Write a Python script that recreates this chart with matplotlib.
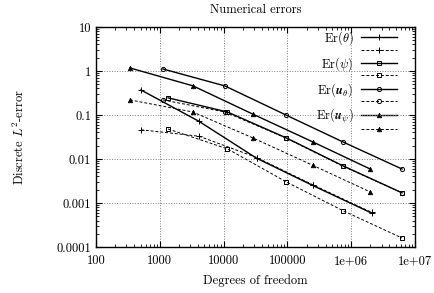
import matplotlib
matplotlib.use("Agg")
import matplotlib.pyplot as plt
from matplotlib.ticker import LogLocator, FixedLocator, FixedFormatter, NullFormatter

plt.rcParams["font.family"] = "cmr10"
plt.rcParams["mathtext.fontset"] = "cm"
plt.rcParams["axes.formatter.use_mathtext"] = True

# degrees of freedom for each unknown
dof_theta = [507, 4100, 33000, 250000, 2.1e6]
dof_psi = [1350, 11500, 97000, 760000, 6.3e6]
dof_utheta = [1120, 10500, 95000, 740000, 6.3e6]
dof_upsi = [341, 3300, 29000, 250000, 2.0e6]

# errors (solid / dashed)
err_theta_a = [0.37, 0.072, 0.0104, 0.0025, 0.00059]
err_theta_b = [0.046, 0.033, 0.0108, 0.0026, 0.00061]
err_psi_a = [0.245, 0.117, 0.030, 0.0069, 0.0017]
err_psi_b = [0.048, 0.017, 0.0030, 0.00066, 0.00016]
err_utheta_a = [1.11, 0.457, 0.10, 0.0245, 0.0059]
err_utheta_b = [0.22, 0.117, 0.030, 0.0069, 0.0017]
err_upsi_a = [1.17, 0.46, 0.104, 0.0245, 0.0059]
err_upsi_b = [0.22, 0.117, 0.030, 0.0072, 0.00178]

labels = [r"$\mathrm{Er}(\theta)$", r"$\mathrm{Er}(\psi)$",
          r"$\mathrm{Er}(\boldsymbol{u}_\theta)$", r"$\mathrm{Er}(\boldsymbol{u}_\psi)$"]

xticks = [100, 1000, 10000, 100000, 1e6, 1e7]
xticklabels = ["100", "1000", "10000", "100000", "1e+06", "1e+07"]
yticks = [0.0001, 0.001, 0.01, 0.1, 1, 10]
yticklabels = ["0.0001", "0.001", "0.01", "0.1", "1", "10"]

fig = plt.figure(figsize=(4.35, 2.93), dpi=100)
ax = fig.add_axes([0.2207, 0.157, 0.733, 0.751])

series = [
    (dof_theta, err_theta_a, err_theta_b, dict(marker="+", ms=4, mew=0.7)),
    (dof_psi, err_psi_a, err_psi_b, dict(marker="s", ms=3, mfc="none", mew=0.7)),
    (dof_utheta, err_utheta_a, err_utheta_b, dict(marker="o", ms=3, mfc="none", mew=0.7)),
    (dof_upsi, err_upsi_a, err_upsi_b, dict(marker="^", ms=3.3, mfc="black", mew=0.5)),
]

handles = []
leg_labels = []
for (x, ya, yb, mk), lab in zip(series, labels):
    h1, = ax.plot(x, ya, color="black", lw=1.0, ls="-", zorder=3, **mk)
    h2, = ax.plot(x, yb, color="black", lw=0.7, ls=(0, (3, 2)), zorder=3, **mk)
    handles += [h1, h2]
    leg_labels += [lab, " "]

ax.set_xscale("log")
ax.set_yscale("log")
ax.set_xlim(100, 1e7)
ax.set_ylim(0.0001, 10)

ax.xaxis.set_major_locator(FixedLocator(xticks))
ax.xaxis.set_major_formatter(FixedFormatter(xticklabels))
ax.yaxis.set_major_locator(FixedLocator(yticks))
ax.yaxis.set_major_formatter(FixedFormatter(yticklabels))
ax.xaxis.set_minor_locator(LogLocator(base=10, subs=range(2, 10), numticks=20))
ax.yaxis.set_minor_locator(LogLocator(base=10, subs=range(2, 10), numticks=20))
ax.xaxis.set_minor_formatter(NullFormatter())
ax.yaxis.set_minor_formatter(NullFormatter())

ax.tick_params(which="both", direction="in", top=True, right=True, labelsize=9)
ax.tick_params(which="major", length=4.5, width=0.8)
ax.tick_params(which="minor", length=2.5, width=0.6)
ax.tick_params(axis="x", which="major", pad=6)
ax.grid(True, which="major", color="gray", ls=":", lw=0.7)
for s in ax.spines.values():
    s.set_linewidth(1.0)

ax.set_title("Numerical errors", fontsize=9, pad=10)
ax.set_xlabel("Degrees of freedom", fontsize=9, labelpad=5)
ax.set_ylabel(r"Discrete $L^2$-error", fontsize=9, labelpad=21)

leg = ax.legend(handles, leg_labels, loc="upper right", bbox_to_anchor=(0.972, 1.03),
                markerfirst=False, fontsize=9, handlelength=2.9, labelspacing=-0.16,
                borderpad=0.2, handletextpad=0.6, frameon=True, fancybox=False,
                edgecolor="none", facecolor="white", framealpha=1)
leg.set_zorder(1)

fig.savefig("out.png", dpi=100)
